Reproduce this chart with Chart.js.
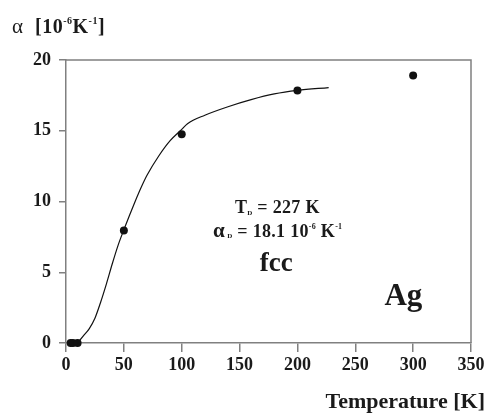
<!DOCTYPE html>
<html>
<head>
<meta charset="utf-8">
<script src="https://cdn.jsdelivr.net/npm/chart.js@4/dist/chart.umd.min.js"></script>
<style>
html,body{margin:0;padding:0;background:#fff;}
#wrap{position:relative;width:488px;height:417px;}
</style>
</head>
<body>
<div id="wrap"><canvas id="c" width="488" height="417"></canvas></div>
<script>
// Fitted curve (solid line)
const curveT     = [10, 15, 20, 25, 30, 35, 40, 45, 50, 55, 60, 65, 70, 80, 90, 100, 105, 120, 140, 160, 180, 200, 227];
const curveAlpha = [0, 0.5, 1.0, 1.75, 2.9, 4.2, 5.6, 6.9, 8.0, 9.05, 10.05, 11.0, 11.85, 13.2, 14.3, 15.1, 15.5, 16.1, 16.7, 17.2, 17.6, 17.85, 18.05];
// Measured points
const pointT     = [4, 6, 10, 50, 100, 200, 300];
const pointAlpha = [0, 0, 0, 7.95, 14.75, 17.85, 18.9];
// Axis ticks
const xTicks = [0, 50, 100, 150, 200, 250, 300, 350];
const yTicks = [0, 5, 10, 15, 20];

const SERIF = "'Liberation Serif','Times New Roman',serif";
const AXIS = '#808080';
const TXT = '#1a1a1a';

function runs(ctx, x, y, segs, align, spacing) {
  // segs: [text, font, dy]
  ctx.letterSpacing = (spacing || 0) + 'px';
  let w = 0;
  segs.forEach(s => { ctx.font = s[1]; w += ctx.measureText(s[0]).width; });
  let cx = align === 'center' ? x - w / 2 : (align === 'right' ? x - w : x);
  ctx.textBaseline = 'alphabetic';
  ctx.textAlign = 'left';
  segs.forEach(s => { ctx.font = s[1]; ctx.fillText(s[0], cx, y + (s[2] || 0)); cx += ctx.measureText(s[0]).width; });
  ctx.letterSpacing = '0px';
}

const decor = {
  id: 'decor',
  afterDatasetsDraw(chart) {
    const ctx = chart.ctx, a = chart.chartArea, xs = chart.scales.x, ys = chart.scales.y;
    ctx.save();
    // frame top & right
    ctx.strokeStyle = AXIS; ctx.lineWidth = 1.5;
    ctx.beginPath();
    ctx.moveTo(a.left, a.top); ctx.lineTo(a.right, a.top); ctx.lineTo(a.right, a.bottom);
    ctx.stroke();
    ctx.fillStyle = TXT;
    // y-axis title
    runs(ctx, 12, 33, [
      ['α  ', '21px ' + SERIF, 0],
      ['[10', 'bold 20px ' + SERIF, 0],
      ['-6', 'bold 10px ' + SERIF, -9],
      ['K', 'bold 20px ' + SERIF, 0],
      ['-1', 'bold 10px ' + SERIF, -9],
      [']', 'bold 20px ' + SERIF, 0]
    ], 'left', 0.5);
    // x-axis title
    runs(ctx, 485, 408, [['Temperature [K]', 'bold 22px ' + SERIF, 0]], 'right');
    // annotations
    runs(ctx, xs.getPixelForValue(182.6), ys.getPixelForValue(9.2), [
      ['T', 'bold 18px ' + SERIF, 0],
      ['D', 'bold 7px ' + SERIF, 2],
      [' = 227 K', 'bold 18px ' + SERIF, 0]
    ], 'center', 0.3);
    runs(ctx, xs.getPixelForValue(183), ys.getPixelForValue(7.5), [
      ['α', 'bold 21px ' + SERIF, 0],
      [' D', 'bold 7px ' + SERIF, 1],
      [' = 18.1 10', 'bold 18px ' + SERIF, 0],
      ['-6', 'bold 8px ' + SERIF, -8],
      [' K', 'bold 18px ' + SERIF, 0],
      ['-1', 'bold 8px ' + SERIF, -8]
    ], 'center', 0.3);
    runs(ctx, xs.getPixelForValue(181.7), ys.getPixelForValue(5.06), [['fcc', 'bold 27px ' + SERIF, 0]], 'center');
    runs(ctx, xs.getPixelForValue(291.6), ys.getPixelForValue(2.7), [['Ag', 'bold 31px ' + SERIF, 0]], 'center');
    ctx.restore();
  }
};

const tickFont = { family: SERIF, size: 18, weight: 'bold' };

new Chart(document.getElementById('c'), {
  type: 'scatter',
  data: {
    datasets: [
      {
        data: curveT.map((t, i) => ({ x: t, y: curveAlpha[i] })),
        showLine: true, pointRadius: 0, borderColor: '#111', borderWidth: 1.2,
        cubicInterpolationMode: 'monotone', clip: false
      },
      {
        data: pointT.map((t, i) => ({ x: t, y: pointAlpha[i] })),
        pointRadius: 4, pointBackgroundColor: '#111', pointBorderColor: '#111', borderWidth: 0, clip: false
      }
    ]
  },
  options: {
    responsive: false, animation: false,
    layout: { padding: { left: 0, top: 60, right: 17, bottom: 0 } },
    plugins: { legend: { display: false }, tooltip: { enabled: false } },
    scales: {
      x: {
        type: 'linear', min: xTicks[0], max: xTicks[xTicks.length - 1],
        afterBuildTicks: s => { s.ticks = xTicks.map(v => ({ value: v })); },
        ticks: { font: tickFont, color: TXT, padding: 3, maxRotation: 0 },
        grid: { drawOnChartArea: false, drawTicks: true, tickLength: 9, color: AXIS, lineWidth: 1.5 },
        border: { color: AXIS, width: 1.5 },
        afterFit: s => { s.height = 74; }
      },
      y: {
        type: 'linear', min: yTicks[0], max: yTicks[yTicks.length - 1],
        afterBuildTicks: s => { s.ticks = yTicks.map(v => ({ value: v })); },
        ticks: { font: tickFont, color: TXT, padding: 8 },
        grid: { drawOnChartArea: false, drawTicks: true, tickLength: 7, color: AXIS, lineWidth: 1.5 },
        border: { color: AXIS, width: 1.5 },
        afterFit: s => { s.width = 66; }
      }
    }
  },
  plugins: [decor]
});
</script>
</body>
</html>
